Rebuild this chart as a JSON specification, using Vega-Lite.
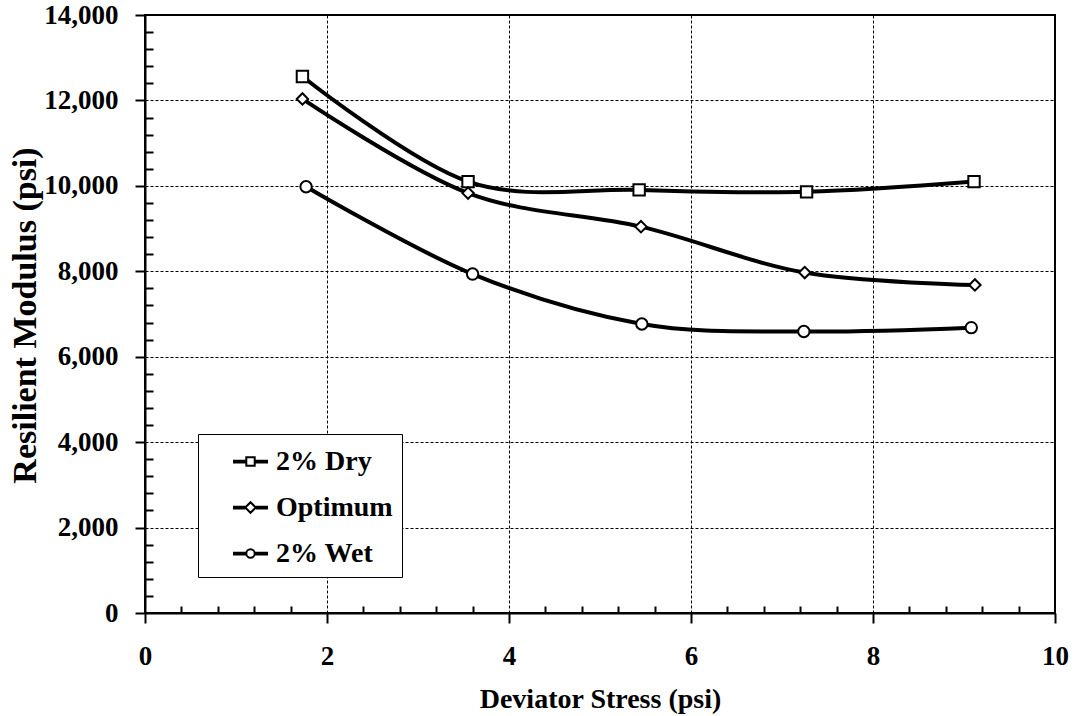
{
  "$schema": "https://vega.github.io/schema/vega-lite/v6.json",
  "width": 910,
  "height": 598,
  "autosize": "none",
  "padding": {"left": 145, "top": 15, "right": 22, "bottom": 103},
  "background": "white",
  "config": {
    "view": {"stroke": "black", "strokeWidth": 2},
    "font": "Liberation Serif",
    "axis": {
      "labelFont": "Liberation Serif",
      "labelFontWeight": "bold",
      "labelFontSize": 27,
      "labelColor": "black",
      "labelFlush": false,
      "labelOverlap": false,
      "titleFont": "Liberation Serif",
      "titleFontWeight": "bold",
      "titleFontSize": 28,
      "titleColor": "black",
      "domainColor": "black",
      "domainWidth": 2,
      "tickColor": "black",
      "tickWidth": 2,
      "gridColor": "black",
      "gridWidth": 1,
      "gridDash": [3, 2],
      "gridOpacity": 1
    },
    "legend": {
      "labelFont": "Liberation Serif",
      "labelFontWeight": "bold",
      "labelFontSize": 28,
      "labelColor": "black"
    }
  },
  "datasets": {
    "pts": [
      {"series": "2% Dry", "stress": 1.73, "modulus": 12560},
      {"series": "2% Dry", "stress": 3.55, "modulus": 10100},
      {"series": "2% Dry", "stress": 5.43, "modulus": 9905},
      {"series": "2% Dry", "stress": 7.27, "modulus": 9860},
      {"series": "2% Dry", "stress": 9.11, "modulus": 10100},
      {"series": "Optimum", "stress": 1.73, "modulus": 12035},
      {"series": "Optimum", "stress": 3.55, "modulus": 9830},
      {"series": "Optimum", "stress": 5.45, "modulus": 9045},
      {"series": "Optimum", "stress": 7.25, "modulus": 7970},
      {"series": "Optimum", "stress": 9.12, "modulus": 7680},
      {"series": "2% Wet", "stress": 1.77, "modulus": 9980},
      {"series": "2% Wet", "stress": 3.6, "modulus": 7935},
      {"series": "2% Wet", "stress": 5.46, "modulus": 6765},
      {"series": "2% Wet", "stress": 7.24, "modulus": 6590},
      {"series": "2% Wet", "stress": 9.08, "modulus": 6680}
    ]
  },
  "layer": [
    {
      "data": {"name": "pts"},
      "layer": [
        {
          "mark": {"type": "line", "interpolate": "cardinal", "stroke": "black", "strokeWidth": 4},
          "encoding": {
            "x": {
              "field": "stress", "type": "quantitative",
              "scale": {"domain": [0, 10], "nice": false, "zero": false},
              "axis": {
                "values": [0, 2, 4, 6, 8, 10],
                "format": "d",
                "tickSize": 10,
                "labelPadding": 20,
                "grid": true,
                "title": "Deviator Stress (psi)",
                "titleBaseline": "alphabetic",
                "titleY": 94
              }
            },
            "y": {
              "field": "modulus", "type": "quantitative",
              "scale": {"domain": [0, 14000], "nice": false, "zero": false},
              "axis": {
                "values": [0, 2000, 4000, 6000, 8000, 10000, 12000, 14000],
                "format": ",d",
                "tickSize": 10,
                "labelPadding": 17,
                "grid": true,
                "title": "Resilient Modulus (psi)",
                "titleFontSize": 34,
                "titleAngle": 270,
                "titleAlign": "center",
                "titleBaseline": "alphabetic",
                "titleX": -110,
                "titleY": 300
              }
            },
            "detail": {"field": "series", "type": "nominal"}
          }
        },
        {
          "mark": {"type": "point", "filled": true, "fill": "white", "stroke": "black", "strokeWidth": 2, "size": 130, "opacity": 1},
          "encoding": {
            "x": {"field": "stress", "type": "quantitative"},
            "y": {"field": "modulus", "type": "quantitative"},
            "shape": {
              "field": "series", "type": "nominal",
              "scale": {"domain": ["2% Dry", "Optimum", "2% Wet"], "range": ["square", "diamond", "circle"]},
              "legend": null
            }
          }
        },
        {
          "mark": {"type": "point", "filled": true, "fill": "white", "stroke": "black", "strokeWidth": 2, "size": 0},
          "encoding": {
            "x": {"field": "stress", "type": "quantitative"},
            "y": {"field": "modulus", "type": "quantitative"},
            "shape": {
              "field": "series", "type": "nominal",
              "scale": {
                "domain": ["2% Dry", "Optimum", "2% Wet"],
                "range": [
                  "M-1,-0.05H-0.24M-1,0H-0.24M-1,0.05H-0.24M0.24,-0.05H1M0.24,0H1M0.24,0.05H1M-0.24,-0.24H0.24V0.24H-0.24Z",
                  "M-1,-0.05H-0.3M-1,0H-0.3M-1,0.05H-0.3M0.3,-0.05H1M0.3,0H1M0.3,0.05H1M-0.3,0L0,-0.3L0.3,0L0,0.3Z",
                  "M-1,-0.05H-0.24M-1,0H-0.24M-1,0.05H-0.24M0.24,-0.05H1M0.24,0H1M0.24,0.05H1M0.24,0A0.24,0.24,0,1,1,-0.24,0A0.24,0.24,0,1,1,0.24,0Z"
                ]
              },
              "legend": {
                "title": null,
                "orient": "none",
                "legendX": 53,
                "legendY": 419,
                "padding": 9,
                "symbolOffset": 25,
                "labelOffset": 7,
                "rowPadding": 13,
                "symbolSize": 1225,
                "symbolStrokeWidth": 2,
                "symbolOpacity": 1,
                "strokeColor": "black",
                "fillColor": "white"
              }
            }
          }
        }
      ],
      "resolve": {"scale": {"shape": "independent"}}
    },
    {
      "data": {"name": "pts"},
      "mark": {"type": "point", "opacity": 0},
      "encoding": {
        "x": {
          "field": "stress", "type": "quantitative",
          "scale": {"domain": [0, 10], "nice": false, "zero": false},
          "axis": {
            "orient": "bottom",
            "values": [0.4, 0.8, 1.2, 1.6, 2.4, 2.8, 3.2, 3.6, 4.4, 4.8, 5.2, 5.6, 6.4, 6.8, 7.2, 7.6, 8.4, 8.8, 9.2, 9.6],
            "labels": false, "domain": false, "grid": false, "title": null,
            "tickSize": -7
          }
        },
        "y": {
          "field": "modulus", "type": "quantitative",
          "scale": {"domain": [0, 14000], "nice": false, "zero": false},
          "axis": {
            "orient": "left",
            "values": [400, 800, 1200, 1600, 2400, 2800, 3200, 3600, 4400, 4800, 5200, 5600, 6400, 6800, 7200, 7600, 8400, 8800, 9200, 9600, 10400, 10800, 11200, 11600, 12400, 12800, 13200, 13600],
            "labels": false, "domain": false, "grid": false, "title": null,
            "tickSize": -8
          }
        }
      }
    }
  ],
  "resolve": {"scale": {"x": "independent", "y": "independent"}, "axis": {"x": "independent", "y": "independent"}}
}
